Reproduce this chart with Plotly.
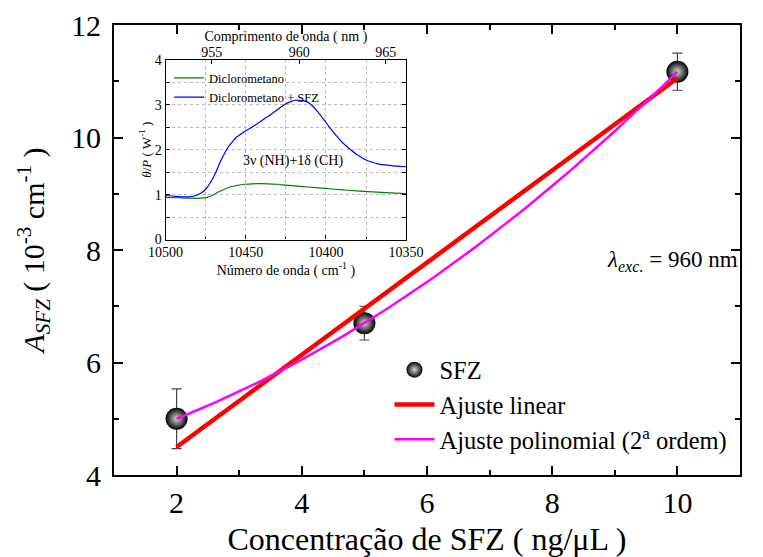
import numpy as np
import plotly.graph_objects as go

# ---- main data ----
conc = [2, 5, 10]
a_sfz = [5.00, 6.70, 11.17]
a_err = [0.53, 0.30, 0.33]

# ---- inset data ----
wn_blue = [10500, 10494, 10490, 10486, 10482, 10478, 10475, 10472, 10469, 10466, 10463, 10461,
           10458, 10456, 10453, 10450, 10447, 10444, 10441, 10438, 10434, 10431, 10428, 10425,
           10422, 10419, 10417, 10414, 10411, 10408, 10405, 10402, 10399, 10396, 10393, 10390,
           10387, 10384, 10381, 10378, 10375, 10371, 10367, 10363, 10358, 10354, 10350]
theta_blue = [0.98, 0.96, 0.95, 0.95, 0.97, 1.03, 1.12, 1.27, 1.47, 1.72, 1.93, 2.06,
              2.19, 2.27, 2.35, 2.42, 2.48, 2.55, 2.62, 2.70, 2.79, 2.87, 2.95, 3.02,
              3.07, 3.10, 3.10, 3.09, 3.05, 2.96, 2.84, 2.70, 2.56, 2.42, 2.29, 2.17,
              2.07, 1.98, 1.90, 1.83, 1.77, 1.72, 1.68, 1.66, 1.64, 1.63, 1.62]
wn_green = [10500, 10492, 10484, 10478, 10474, 10471, 10468, 10464, 10460, 10456, 10451, 10446,
            10441, 10436, 10430, 10425, 10418, 10411, 10401, 10391, 10381, 10371, 10360, 10350]
theta_green = [0.94, 0.93, 0.92, 0.92, 0.94, 0.98, 1.04, 1.11, 1.17, 1.20, 1.23, 1.24,
               1.245, 1.24, 1.23, 1.21, 1.19, 1.17, 1.14, 1.11, 1.085, 1.06, 1.04, 1.02]
nm_ticks = [955, 960, 965]

FONT = "Liberation Serif, 'Times New Roman', 'DejaVu Serif', serif"

# fits
c_lin = np.polyfit(conc, a_sfz, 1, w=1 / np.array(a_err))
c_quad = np.polyfit(conc, a_sfz, 2)
xf_lin = np.array([min(conc), max(conc)])
xf = np.linspace(min(conc), max(conc), 100)

fig = go.Figure()
fig.add_trace(go.Scatter(
    x=conc, y=a_sfz, mode="markers", name="SFZ",
    marker=dict(size=22, color="black", gradient=dict(type="radial", color="#d8d8d8"),
                line=dict(width=0)),
    error_y=dict(type="data", array=a_err, color="#444444", thickness=1.2, width=5),
    legend="legend"))
fig.add_trace(go.Scatter(x=xf_lin, y=np.polyval(c_lin, xf_lin), mode="lines",
                         name="Ajuste linear", line=dict(color="#ff0000", width=4.5), legend="legend"))
fig.add_trace(go.Scatter(x=xf, y=np.polyval(c_quad, xf), mode="lines",
                         name="Ajuste polinomial (2<sup>a</sup> ordem)",
                         line=dict(color="#ff00ff", width=2.5), legend="legend"))

# inset
fig.add_trace(go.Scatter(x=wn_green, y=theta_green, mode="lines", name="Diclorometano",
                         line=dict(color="#008000", width=1.2, shape="spline", smoothing=0.6),
                         xaxis="x2", yaxis="y2", legend="legend2"))
fig.add_trace(go.Scatter(x=wn_blue, y=theta_blue, mode="lines", name="Diclorometano + SFZ",
                         line=dict(color="#0000ff", width=1.2, shape="spline", smoothing=0.6),
                         xaxis="x2", yaxis="y2", legend="legend2"))
fig.add_trace(go.Scatter(x=[1e7 / 960], y=[2], mode="markers", marker=dict(opacity=0),
                         showlegend=False, hoverinfo="skip", xaxis="x3", yaxis="y2"))

ax_main = dict(showline=True, linecolor="black", linewidth=2, mirror="allticks",
               ticks="inside", ticklen=9, tickwidth=1.5, tickcolor="black",
               showgrid=False, zeroline=False,
               tickfont=dict(family=FONT, size=30, color="black"))
ax_in = dict(showline=True, linecolor="black", linewidth=1.2,
             ticks="inside", ticklen=4, tickwidth=1, tickcolor="black",
             zeroline=False, showgrid=True, gridcolor="#bbbbbb", griddash="dot", gridwidth=1,
             tickfont=dict(family=FONT, size=14, color="black"))

fig.update_layout(
    width=763, height=557,
    margin=dict(l=114, r=6, t=25, b=79),
    paper_bgcolor="white", plot_bgcolor="white",
    font=dict(family=FONT, color="black"),
    xaxis=dict(**ax_main, range=[1, 11], dtick=2, tick0=0, ticklabelstandoff=0,
               minor=dict(ticks="inside", ticklen=5, dtick=1, tickcolor="black", tickwidth=1.5),
               title=dict(text="Concentração de SFZ ( ng/μL )", font=dict(family=FONT, size=32),
                          standoff=10)),
    yaxis=dict(**ax_main, range=[4, 12], dtick=2, tick0=0, ticklabelstandoff=5,
               minor=dict(ticks="inside", ticklen=5, dtick=1, tickcolor="black", tickwidth=1.5),
               title=dict(text="<i>A</i><sub><i>SFZ</i></sub> ( 10<sup>-3</sup> cm<sup>-1</sup> )",
                          font=dict(family=FONT, size=30), standoff=18)),
    xaxis2=dict(**ax_in, domain=[0.0824, 0.4666], anchor="y2", range=[10500, 10350],
                tickvals=[10500, 10450, 10400, 10350], tickformat="d",
                minor=dict(ticks="inside", ticklen=2, dtick=25, tick0=0, showgrid=True,
                           gridcolor="#bbbbbb", griddash="dot", gridwidth=1, tickcolor="black"),
                title=dict(text="Número de onda ( cm<sup>-1</sup> )", font=dict(family=FONT, size=14),
                           standoff=2)),
    yaxis2=dict(**ax_in, domain=[0.5232, 0.9227], anchor="x2", range=[0, 4], dtick=1,
                mirror="allticks",
                minor=dict(ticks="inside", ticklen=2, dtick=0.5, showgrid=True,
                           gridcolor="#bbbbbb", griddash="dot", gridwidth=1, tickcolor="black"),
                title=dict(text="<i>θ</i>/<i>P</i> ( W<sup>-1</sup> )", font=dict(family=FONT, size=13),
                           standoff=0)),
    xaxis3=dict(showline=True, linecolor="black", linewidth=1.2, overlaying="x2", anchor="y2",
                side="top", range=[10500, 10350], ticks="inside", ticklen=4, tickcolor="black",
                tickvals=[1e7 / v for v in nm_ticks], ticktext=[str(v) for v in nm_ticks],
                showgrid=False, zeroline=False, ticklabelstandoff=-4,
                tickfont=dict(family=FONT, size=14, color="black"),
                title=dict(text="Comprimento de onda ( nm )", font=dict(family=FONT, size=14),
                           standoff=0)),
    legend=dict(x=0.44, y=0.284, xanchor="left", yanchor="top", bgcolor="rgba(0,0,0,0)",
                font=dict(family=FONT, size=24.5), tracegroupgap=0, itemwidth=40),
    legend2=dict(x=0.088, y=0.915, xanchor="left", yanchor="top", bgcolor="rgba(0,0,0,0)",
                 font=dict(family=FONT, size=12.5), tracegroupgap=0, itemwidth=30),
    annotations=[
        dict(text="<i>λ</i><sub><i>exc.</i></sub> = 960 nm", xref="paper", yref="paper",
             x=0.785, y=0.475, xanchor="left", yanchor="middle", showarrow=False,
             font=dict(family=FONT, size=23, color="black")),
        dict(text="3ν (NH)+1δ (CH)", xref="x2", yref="y2", x=10420.4, y=1.74,
             showarrow=False, font=dict(family=FONT, size=14, color="black")),
    ],
)

fig.write_html("out.html")
